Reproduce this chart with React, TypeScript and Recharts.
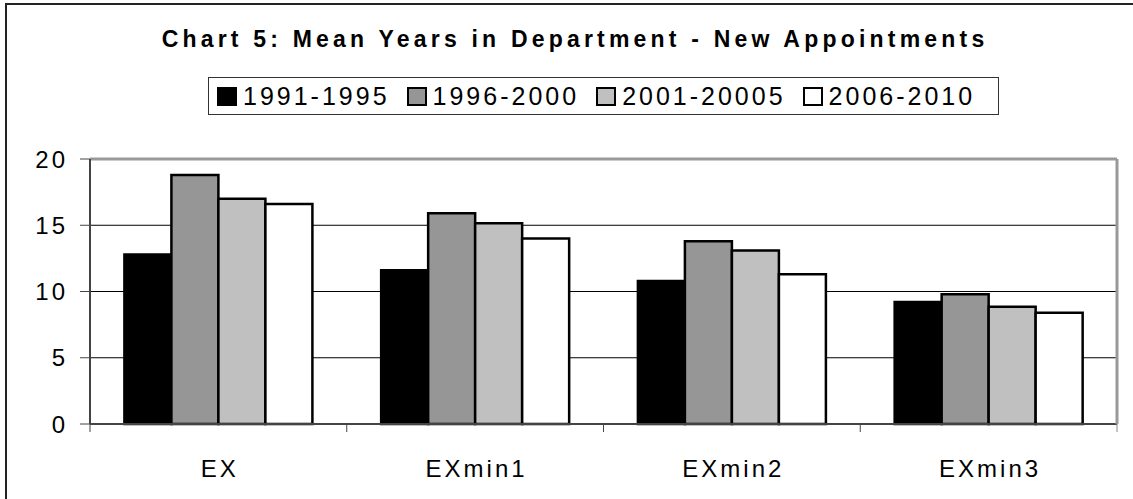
import React from 'react';
import {
  BarChart,
  Bar,
  XAxis,
  YAxis,
  CartesianGrid,
  ReferenceLine,
  Legend,
} from 'recharts';

const categories = ['EX', 'EXmin1', 'EXmin2', 'EXmin3'];
const seriesNames = ['1991-1995', '1996-2000', '2001-20005', '2006-2010'];
const series1 = [12.8, 11.6, 10.8, 9.2];
const series2 = [18.8, 15.9, 13.8, 9.8];
const series3 = [17.0, 15.15, 13.1, 8.85];
const series4 = [16.6, 14.0, 11.3, 8.4];
const seriesColors = ['#000000', '#969696', '#c0c0c0', '#ffffff'];
const yTicks = [0, 5, 10, 15, 20];
const title = 'Chart 5: Mean Years in Department - New Appointments';

const allSeries = [series1, series2, series3, series4];
const keys = ['s1', 's2', 's3', 's4'];

const data = categories.map((c, i) => {
  const row: Record<string, any> = { name: c };
  keys.forEach((k, j) => {
    row[k] = allSeries[j][i];
  });
  return row;
});

const FONT = '"Liberation Sans", Arial, sans-serif';

function CatTick(props: any) {
  const { x, y, payload, index, visibleTicksCount } = props;
  const off = payload && typeof payload.offset === 'number' ? payload.offset : 0;
  const last = index === visibleTicksCount - 1;
  return (
    <g>
      <line x1={x - off} x2={x - off} y1={y} y2={y + 8} stroke="#444" strokeWidth={1} />
      {last && <line x1={x + off} x2={x + off} y1={y} y2={y + 8} stroke="#888" strokeWidth={1} />}
      <text
        x={x + 1.5}
        y={y + 53}
        textAnchor="middle"
        fontSize={24}
        letterSpacing={3}
        fontFamily={FONT}
        fill="#000"
      >
        {payload.value}
      </text>
    </g>
  );
}

function LegendBox() {
  return (
    <div
      style={{
        border: '1px solid #333',
        boxSizing: 'border-box',
        height: 38,
        display: 'flex',
        alignItems: 'center',
        paddingLeft: 8,
        fontFamily: FONT,
        fontSize: 25,
        letterSpacing: 3,
        background: '#fff',
        whiteSpace: 'nowrap',
      }}
    >
      {seriesNames.map((n, i) => (
        <div key={n} style={{ display: 'flex', alignItems: 'center', marginRight: i < 3 ? 17 : 0 }}>
          <span
            style={{
              display: 'inline-block',
              width: 20,
              height: 19,
              boxSizing: 'border-box',
              background: seriesColors[i],
              border: '2px solid #000',
              marginRight: 6,
            }}
          />
          <span style={{ lineHeight: '25px' }}>{n}</span>
        </div>
      ))}
    </div>
  );
}

export default function App() {
  return (
    <div
      style={{
        position: 'absolute',
        left: 0,
        top: 0,
        width: 1133,
        height: 499,
        background: '#fff',
        overflow: 'hidden',
      }}
    >
      <div
        style={{
          position: 'absolute',
          left: 5,
          top: 3,
          right: 0,
          bottom: 0,
          borderLeft: '2px solid #222',
          borderTop: '2px solid #222',
        }}
      />
      <div
        style={{
          position: 'absolute',
          left: 0,
          width: 1150,
          top: 26,
          textAlign: 'center',
          fontFamily: FONT,
          fontWeight: 'bold',
          fontSize: 23,
          letterSpacing: 4.2,
          whiteSpace: 'nowrap',
          color: '#000',
        }}
      >
        {title}
      </div>
      <BarChart
        width={1133}
        height={499}
        data={data}
        margin={{ top: 159, right: 0, bottom: 0, left: 0 }}
        barCategoryGap="13.4%"
        barGap={0}
        style={{ position: 'absolute', left: 0, top: 0 }}
      >
        <CartesianGrid vertical={false} stroke="#000" strokeWidth={1} />
        <XAxis
          dataKey="name"
          height={75}
          axisLine={{ stroke: '#444', strokeWidth: 2 }}
          tickLine={false}
          tickSize={0}
          tickMargin={0}
          tick={<CatTick />}
          interval={0}
        />
        <YAxis
          width={90}
          domain={[0, 20]}
          ticks={yTicks}
          interval={0}
          axisLine={{ stroke: '#444', strokeWidth: 2 }}
          tickLine={{ stroke: '#444', strokeWidth: 1 }}
          tickSize={10}
          tickMargin={12}
          tick={{ fontSize: 24, fill: '#000', fontFamily: FONT, letterSpacing: 3 }}
        />
        <YAxis
          yAxisId="right"
          orientation="right"
          width={16}
          domain={[0, 20]}
          tick={false}
          tickLine={false}
          axisLine={{ stroke: '#999', strokeWidth: 3 }}
        />
        <ReferenceLine y={20} stroke="#999" strokeWidth={3} />
        {keys.map((k, i) => (
          <Bar
            key={k}
            dataKey={k}
            name={seriesNames[i]}
            fill={seriesColors[i]}
            stroke="#000"
            strokeWidth={2.5}
            isAnimationActive={false}
          />
        ))}
        <Legend
          verticalAlign="middle"
          align="center"
          layout="horizontal"
          wrapperStyle={{ top: 77, left: 208, width: 791, height: 38 }}
          content={() => <LegendBox />}
        />
      </BarChart>
    </div>
  );
}
